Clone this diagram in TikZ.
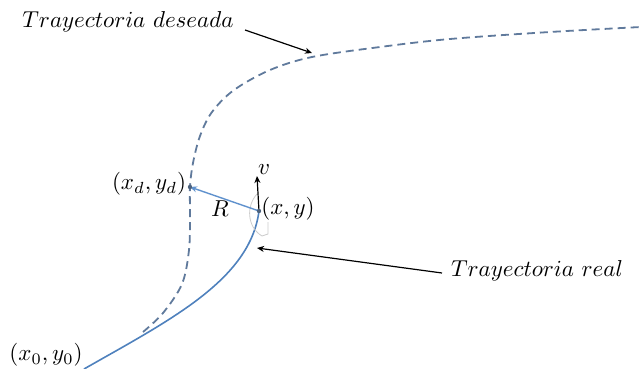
\documentclass[tikz,border=0pt]{standalone}
\usetikzlibrary{arrows.meta}
\definecolor{desblue}{RGB}{96,122,156}
\definecolor{realblue}{RGB}{79,129,189}
\definecolor{rblue}{RGB}{95,145,205}
\begin{document}
\begin{tikzpicture}[x=1pt,y=-1pt,
  lbl/.style={inner sep=0pt, scale=2.3},
  ptr/.style={draw=black, line width=1.2pt, -{Stealth[length=7pt,width=6pt]}},
  desired/.style={draw=desblue, line width=1.8pt, dash pattern=on 8pt off 5pt},
  realpath/.style={draw=realblue, line width=1.6pt},
  ghost/.style={draw=black!20, line width=0.8pt}]
\useasboundingbox (0,0) rectangle (642,369);
% labels
\node[lbl] (tdes) at (128,22) {$Trayectoria\ deseada$};
\node[lbl] (treal) at (537,271) {$Trayectoria\ real$};
\node[lbl] (x0) at (46,355) {$(x_0,y_0)$};
\node[lbl] (xd) at (149,184) {$(x_d,y_d)$};
\node[lbl] (xy) at (288,209) {$(x,y)$};
\node[lbl] (vl) at (264,170) {$v$};
\node[lbl] (Rl) at (220,209) {$R$};
% key points
\coordinate (pd) at (190,187);
\coordinate (p) at (259,211);
\coordinate (vtip) at (257,176);
\coordinate (desA) at (245,30);
\coordinate (desB) at (312,53);
\coordinate (realA) at (442,273);
\coordinate (realB) at (257,248);
% desired trajectory
\draw[desired] plot[smooth, tension=0.55] coordinates {(143,332) (163,313) (182,284) (189,250) (190,215) (pd) (193,163) (200,136) (212,112) (234,90) (270,70) (312,57) (380,47) (450,39) (550,32) (641,27)};
% real trajectory
\draw[realpath] (84,369) .. controls (170,320) and (250,280) .. (p);
% faint angle marker
\draw[ghost] (257,194) .. controls (246,206) and (247,227) .. (262,236) -- (268,234) -- (268,222);
% vectors
\draw[rblue, line width=1.4pt, -{Stealth[length=7pt,width=6pt]}] (p) -- (pd);
\draw[ptr] (p) -- (vtip);
\fill[desblue!80!black] (pd) circle (2.2pt);
\fill[desblue!80!black] (p) circle (2.2pt);
% pointers
\draw[ptr] (desA) -- (desB);
\draw[ptr] (realA) -- (realB);
\end{tikzpicture}
\end{document}
